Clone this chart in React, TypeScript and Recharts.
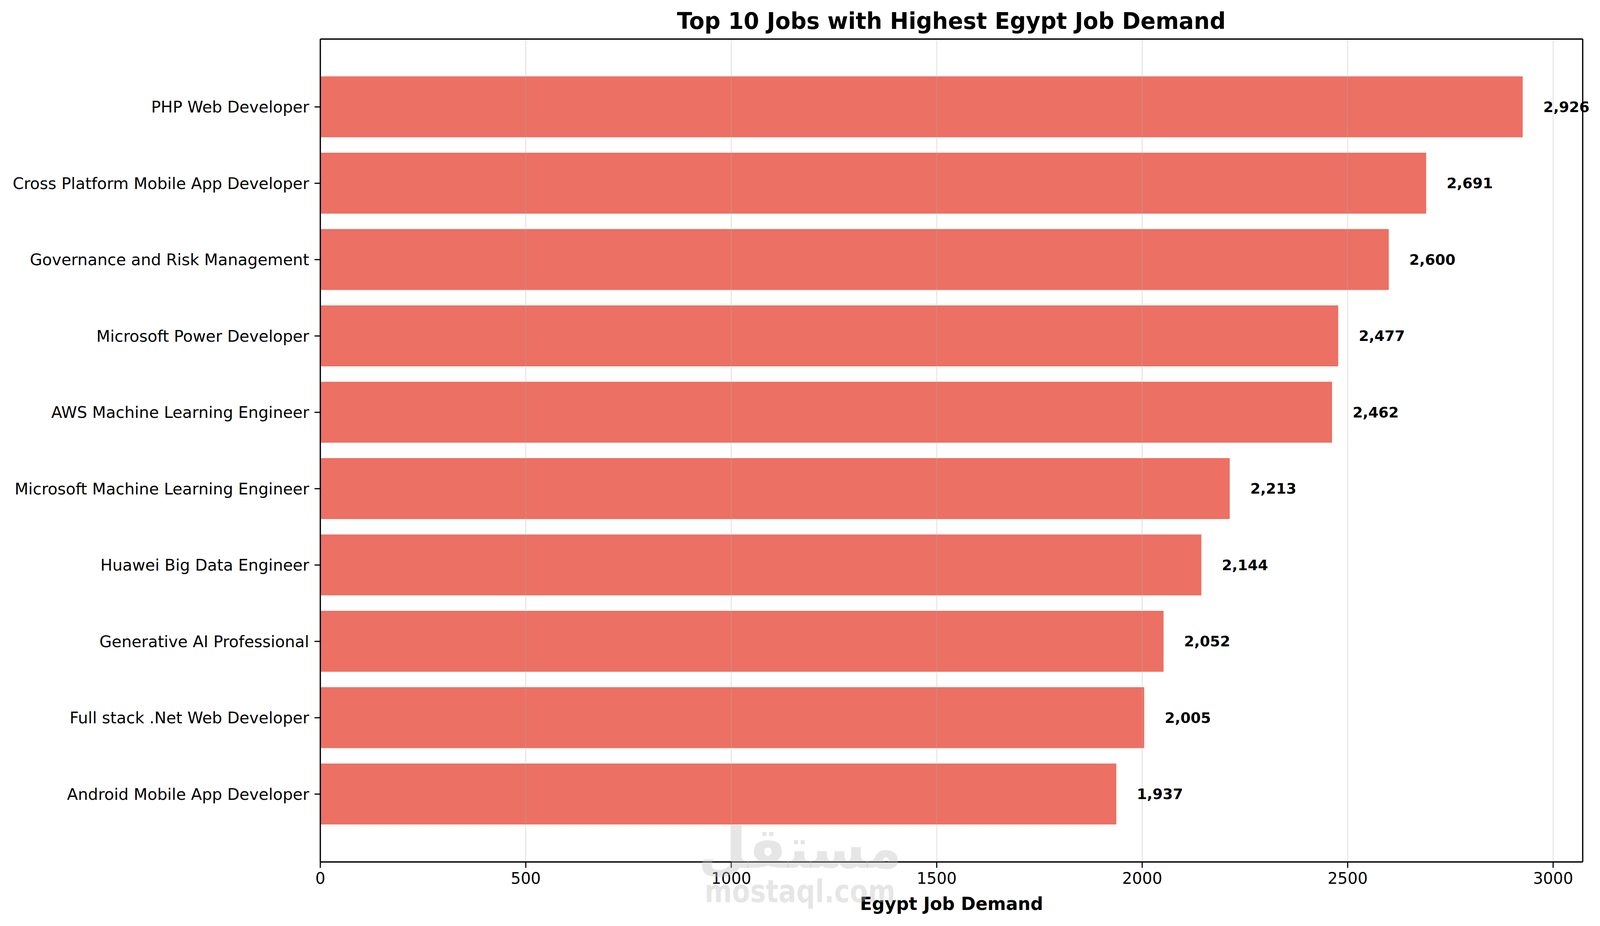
import React from 'react';
import { ComposedChart, Bar, Line, XAxis, YAxis, ReferenceLine, LabelList } from 'recharts';

const jobs = [
  'PHP Web Developer',
  'Cross Platform Mobile App Developer',
  'Governance and Risk Management',
  'Microsoft Power Developer',
  'AWS Machine Learning Engineer',
  'Microsoft Machine Learning Engineer',
  'Huawei Big Data Engineer',
  'Generative AI Professional',
  'Full stack .Net Web Developer',
  'Android Mobile App Developer',
];
const demand = [2926, 2691, 2600, 2477, 2462, 2213, 2144, 2052, 2005, 1937];
const xTicks = [0, 500, 1000, 1500, 2000, 2500, 3000];
const xMax = 3072;
const labelOffsetUnits = 50;

const data = jobs.map((job, i) => ({ job, demand: demand[i] }));

const FONT = '"DejaVu Sans", sans-serif';
const W = 4166;
const H = 2371;

const ValueLabel = (props: any) => {
  const { x, y, width, height, value } = props;
  const pxPerUnit = value ? width / value : 0;
  return (
    <text
      x={x + width + labelOffsetUnits * pxPerUnit}
      y={y + height / 2}
      textAnchor="start"
      dominantBaseline="central"
      fontFamily={FONT}
      fontWeight="bold"
      fontSize={38}
      fill="#000"
    >
      {Number(value).toLocaleString('en-US')}
    </text>
  );
};

export default function App() {
  const vw = typeof window !== 'undefined' ? window.innerWidth : W;
  const vh = typeof window !== 'undefined' ? window.innerHeight : H;
  const sx = Math.min(1, vw / W);
  const sy = Math.min(1, vh / H);
  return (
    <div
      style={{
        position: 'absolute',
        left: 0,
        top: 0,
        width: W,
        height: H,
        background: '#fff',
        transform: `scale(${sx}, ${sy})`,
        transformOrigin: '0 0',
      }}
    >
      <ComposedChart
        width={W}
        height={H}
        data={data}
        layout="vertical"
        margin={{ top: 99, right: 44, bottom: 0, left: 0 }}
        barCategoryGap="10%"
      >
        <XAxis
          type="number"
          dataKey="demand"
          domain={[0, xMax]}
          ticks={xTicks}
          height={164}
          tickSize={15}
          tickMargin={12}
          axisLine={{ stroke: '#000', strokeWidth: 3.3 }}
          tickLine={{ stroke: '#000', strokeWidth: 3 }}
          tick={{ fontFamily: FONT, fontSize: 41, fill: '#000' }}
          label={{
            value: 'Egypt Job Demand',
            position: 'insideBottom',
            offset: 41,
            style: { fontFamily: FONT, fontSize: 46, fontWeight: 'bold', fill: '#000' },
          }}
        />
        <XAxis
          xAxisId="top"
          orientation="top"
          type="number"
          domain={[0, xMax]}
          height={1}
          tick={false}
          tickLine={false}
          axisLine={{ stroke: '#000', strokeWidth: 3.3 }}
        />
        <YAxis
          type="category"
          dataKey="job"
          width={834}
          padding={{ top: 76, bottom: 76 }}
          tickSize={15}
          tickMargin={14}
          axisLine={{ stroke: '#000', strokeWidth: 3.3 }}
          tickLine={{ stroke: '#000', strokeWidth: 3 }}
          tick={{ fontFamily: FONT, fontSize: 41.5, fill: '#000' }}
          interval={0}
        />
        <YAxis
          yAxisId="right"
          orientation="right"
          type="category"
          dataKey="job"
          width={1}
          padding={{ top: 76, bottom: 76 }}
          tick={false}
          tickLine={false}
          axisLine={{ stroke: '#000', strokeWidth: 3.3 }}
        />
        <Bar dataKey="demand" fill="#e74c3c" fillOpacity={0.8} isAnimationActive={false}>
          <LabelList dataKey="demand" content={ValueLabel} />
        </Bar>
        <Line
          xAxisId="top"
          yAxisId="right"
          dataKey="demand"
          stroke="none"
          strokeOpacity={0}
          dot={false}
          activeDot={false}
          legendType="none"
          isAnimationActive={false}
        />
        {xTicks.map((t) => (
          <ReferenceLine key={t} x={t} stroke="#b0b0b0" strokeOpacity={0.3} strokeWidth={3} />
        ))}
      </ComposedChart>
      <svg
        width={W}
        height={H}
        style={{ position: 'absolute', left: 0, top: 0, pointerEvents: 'none' }}
      >
        <text
          x={2477}
          y={74}
          textAnchor="middle"
          fontFamily={FONT}
          fontWeight="bold"
          fontSize={58}
          fill="#000"
        >
          Top 10 Jobs with Highest Egypt Job Demand
        </text>
        <g fill="#bdbdbd" fillOpacity={0.38}>
          <text
            x={2083}
            y={2222}
            textAnchor="middle"
            fontFamily={FONT}
            fontWeight="bold"
            fontSize={145}
            direction="rtl"
          >
            مستقل
          </text>
          <text
            x={2083}
            y={2310}
            textAnchor="middle"
            fontFamily={FONT}
            fontWeight="bold"
            fontSize={80}
            textLength={497}
            lengthAdjust="spacingAndGlyphs"
          >
            mostaql.com
          </text>
        </g>
      </svg>
    </div>
  );
}
